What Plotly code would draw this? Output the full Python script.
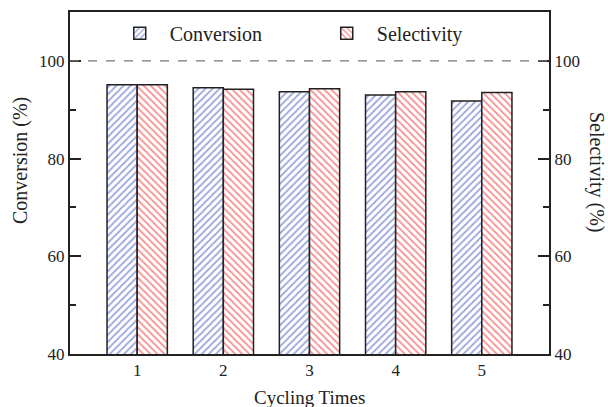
import plotly.graph_objects as go

cycles = [1, 2, 3, 4, 5]
conversion = [95.1, 94.5, 93.7, 93.0, 91.8]
selectivity = [95.1, 94.2, 94.3, 93.7, 93.5]

FONT = "Liberation Serif"
fig = go.Figure()
fig.add_trace(go.Bar(
    x=cycles, y=conversion, name="Conversion", width=0.35, offset=-0.35,
    marker=dict(color="white", line=dict(color="#222", width=1.5),
                pattern=dict(shape="/", fgcolor="#3a4db8", bgcolor="white", size=5, solidity=0.35)),
    yaxis="y"))
fig.add_trace(go.Bar(
    x=cycles, y=selectivity, name="Selectivity", width=0.35, offset=0,
    marker=dict(color="white", line=dict(color="#222", width=1.5),
                pattern=dict(shape="\\", fgcolor="#ec2424", bgcolor="white", size=5, solidity=0.35)),
    yaxis="y2"))

fig.add_hline(y=100, line=dict(color="#777", width=1.2, dash="dash"))

axis_common = dict(range=[40, 110], tickvals=[40, 60, 80, 100], ticks="inside", ticklen=11,
                   tickwidth=2, tickcolor="#222", showline=True, linecolor="#222", linewidth=2,
                   showgrid=False, zeroline=False, automargin=False,
                   minor=dict(tickvals=[50, 70, 90], ticks="inside", ticklen=6, tickwidth=2, tickcolor="#222"),
                   tickfont=dict(family=FONT, size=17, color="#222"))
fig.update_layout(
    width=608, height=407,
    margin=dict(l=70, r=59, t=12, b=53),
    plot_bgcolor="white", paper_bgcolor="white",
    font=dict(family=FONT, color="#222"),
    xaxis=dict(range=[0.22, 5.78], tickvals=cycles, ticks="", showline=True, linecolor="#222",
               linewidth=2, mirror=True, showgrid=False, zeroline=False, automargin=False,
               tickfont=dict(family=FONT, size=17, color="#222")),
    yaxis=dict(**axis_common),
    yaxis2=dict(**axis_common, overlaying="y", side="right"),
    showlegend=True,
    legend=dict(orientation="h", x=0.083, y=0.995, xanchor="left", yanchor="top",
                font=dict(family=FONT, size=20), itemwidth=50, bgcolor="rgba(0,0,0,0)",
                entrywidth=142, entrywidthmode="pixels"),
    annotations=[
        dict(text="Selectivity (%)", textangle=90, x=1.0, xref="paper", xshift=48, xanchor="center",
             y=0.5, yref="paper", yshift=11, yanchor="middle", showarrow=False,
             font=dict(family=FONT, size=20, color="#222")),
        dict(text="Conversion (%)", textangle=-90, x=0.0, xref="paper", xshift=-50, xanchor="center",
             y=0.5, yref="paper", yshift=22, yanchor="middle", showarrow=False,
             font=dict(family=FONT, size=20, color="#222")),
        dict(text="Cycling Times", x=0.5, xref="paper", y=0.0, yref="paper", yshift=-43,
             yanchor="middle", showarrow=False, font=dict(family=FONT, size=19, color="#222")),
    ],
)

fig.write_html("out.html", config={"displayModeBar": False},
               post_script="document.body.style.margin='0';document.body.style.overflow='hidden';")
